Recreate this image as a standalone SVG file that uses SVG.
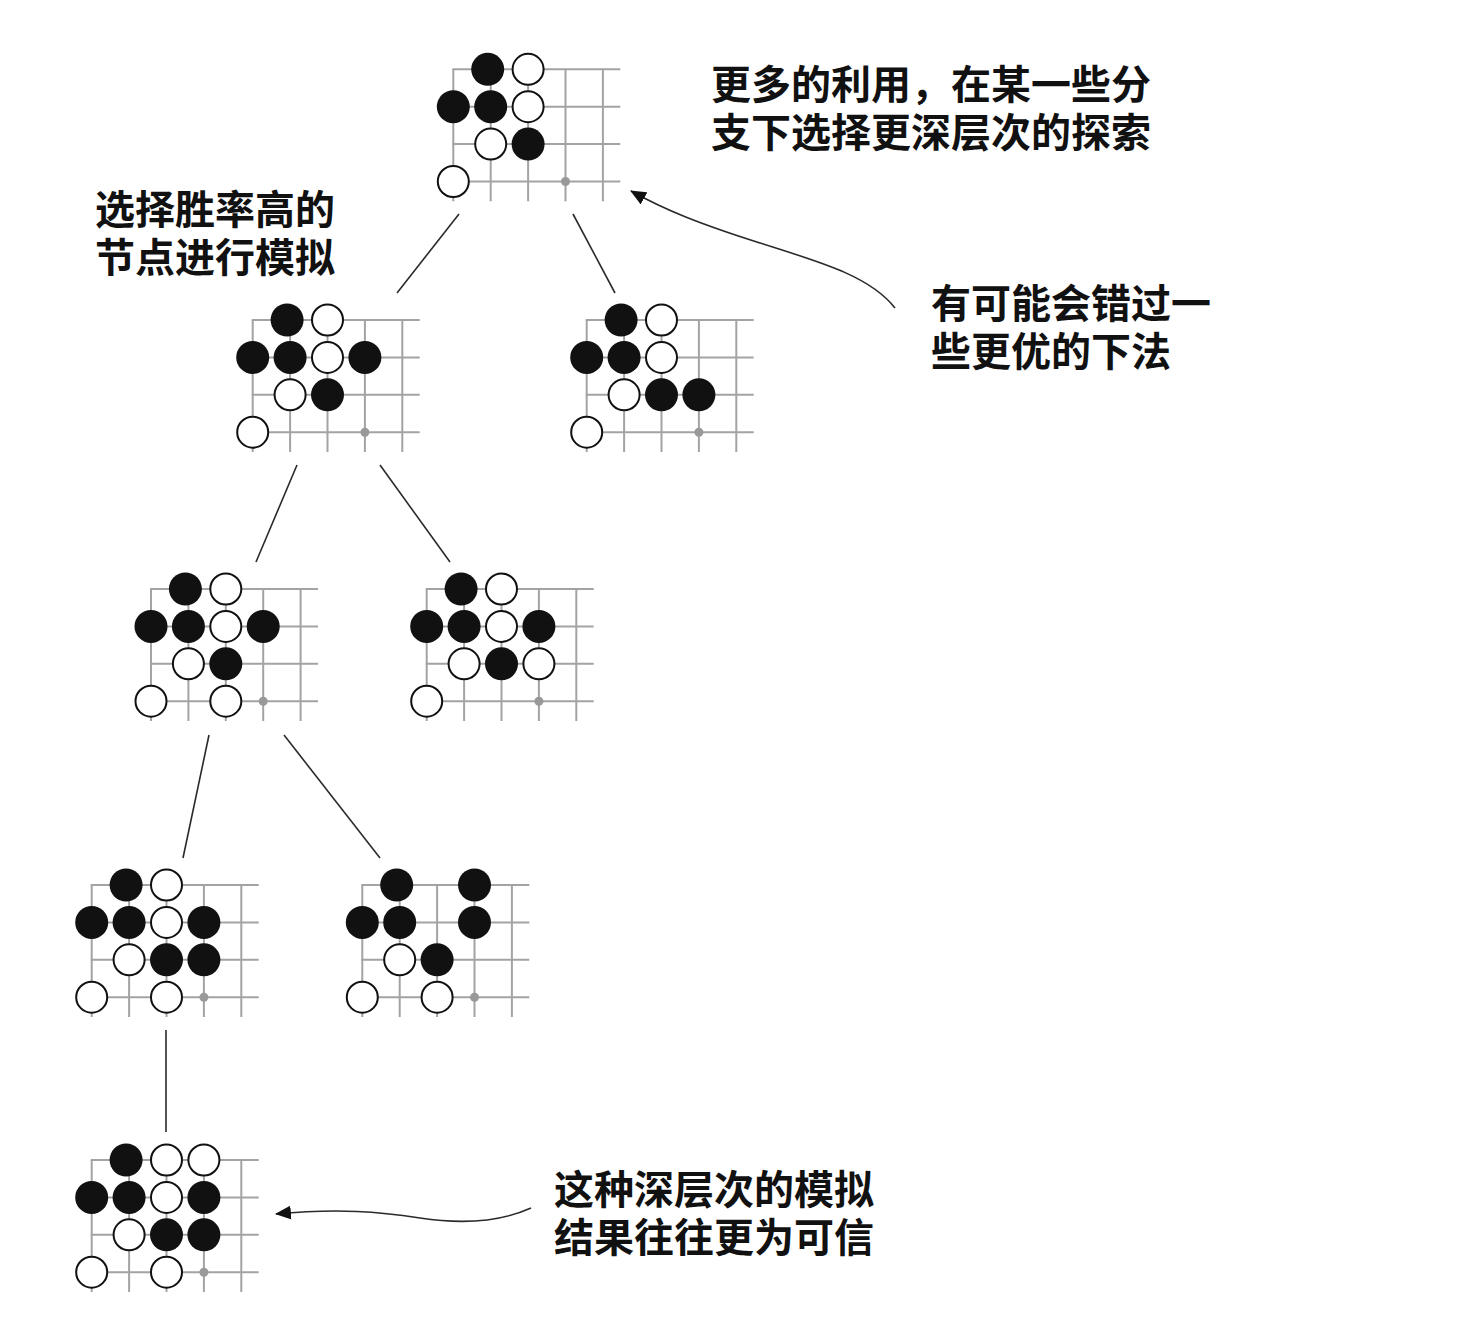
<svg xmlns="http://www.w3.org/2000/svg" xmlns:xlink="http://www.w3.org/1999/xlink" width="1476" height="1338" viewBox="0 0 1476 1338">
<style>
.grid line{stroke:#a3a3a3;stroke-width:2}
.b{fill:#111}
.w{fill:#fff;stroke:#111;stroke-width:2}
.star{fill:#999}
.edge{stroke:#2a2a2a;stroke-width:1.6;fill:none}
.curve{stroke:#2a2a2a;stroke-width:1.6;fill:none;marker-end:url(#arr)}
.lbl{font-family:"Noto Sans CJK SC","Noto Sans",sans-serif;font-weight:700;font-size:40px;fill:#111}
</style>
<defs>
<marker id="arr" viewBox="0 0 16 14" refX="15" refY="7" markerWidth="16" markerHeight="14" markerUnits="userSpaceOnUse" orient="auto">
<path d="M0,0 L16,7 L0,14 z" fill="#111"/>
</marker>
<g id="grid" class="grid">
<line x1="-1" y1="0" x2="167" y2="0"/>
<line x1="-1" y1="37.4" x2="167" y2="37.4"/>
<line x1="-1" y1="74.8" x2="167" y2="74.8"/>
<line x1="-1" y1="112.2" x2="167" y2="112.2"/>
<line x1="0" y1="0" x2="0" y2="132"/>
<line x1="37.4" y1="0" x2="37.4" y2="132"/>
<line x1="74.8" y1="0" x2="74.8" y2="132"/>
<line x1="112.2" y1="0" x2="112.2" y2="132"/>
<line x1="149.6" y1="0" x2="149.6" y2="132"/>
</g>
</defs>
<rect width="1476" height="1338" fill="#fff"/>

<g id="connectors">
<line class="edge" x1="459" y1="214" x2="397" y2="293"/>
<line class="edge" x1="573" y1="214" x2="615" y2="293"/>
<line class="edge" x1="297" y1="465" x2="256" y2="562"/>
<line class="edge" x1="380" y1="465" x2="450" y2="562"/>
<line class="edge" x1="209" y1="735" x2="183" y2="858"/>
<line class="edge" x1="284" y1="735" x2="380" y2="858"/>
<line class="edge" x1="166" y1="1030" x2="166" y2="1132"/>
<path class="curve" d="M895,308 C870,276 820,262 760,243 C700,224 665,210 631,191"/>
<path class="curve" d="M531,1208 C500,1222 460,1224 420,1218 C380,1212 340,1208 276,1214"/>
</g>

<g id="board-root" transform="translate(453.3,69.3)">
<use xlink:href="#grid" href="#grid"/>
<circle class="star" cx="112.2" cy="112.2" r="4.5"/>
<circle class="b" cx="34.4" cy="0" r="16.5"/>
<circle class="w" cx="74.8" cy="0" r="15.5"/>
<circle class="b" cx="0" cy="37.4" r="16.5"/>
<circle class="b" cx="37.4" cy="37.4" r="16.5"/>
<circle class="w" cx="74.8" cy="37.4" r="15.5"/>
<circle class="w" cx="37.4" cy="74.8" r="15.5"/>
<circle class="b" cx="74.8" cy="74.8" r="16.5"/>
<circle class="w" cx="0" cy="112.2" r="15.5"/>
</g>

<g id="board-l1-left" transform="translate(252.7,320)">
<use xlink:href="#grid" href="#grid"/>
<circle class="star" cx="112.2" cy="112.2" r="4.5"/>
<circle class="b" cx="34.4" cy="0" r="16.5"/>
<circle class="w" cx="74.8" cy="0" r="15.5"/>
<circle class="b" cx="0" cy="37.4" r="16.5"/>
<circle class="b" cx="37.4" cy="37.4" r="16.5"/>
<circle class="w" cx="74.8" cy="37.4" r="15.5"/>
<circle class="b" cx="112.2" cy="37.4" r="16.5"/>
<circle class="w" cx="37.4" cy="74.8" r="15.5"/>
<circle class="b" cx="74.8" cy="74.8" r="16.5"/>
<circle class="w" cx="0" cy="112.2" r="15.5"/>
</g>

<g id="board-l1-right" transform="translate(586.7,320)">
<use xlink:href="#grid" href="#grid"/>
<circle class="star" cx="112.2" cy="112.2" r="4.5"/>
<circle class="b" cx="34.4" cy="0" r="16.5"/>
<circle class="w" cx="74.8" cy="0" r="15.5"/>
<circle class="b" cx="0" cy="37.4" r="16.5"/>
<circle class="b" cx="37.4" cy="37.4" r="16.5"/>
<circle class="w" cx="74.8" cy="37.4" r="15.5"/>
<circle class="w" cx="37.4" cy="74.8" r="15.5"/>
<circle class="b" cx="74.8" cy="74.8" r="16.5"/>
<circle class="b" cx="112.2" cy="74.8" r="16.5"/>
<circle class="w" cx="0" cy="112.2" r="15.5"/>
</g>

<g id="board-l2-left" transform="translate(151,589)">
<use xlink:href="#grid" href="#grid"/>
<circle class="star" cx="112.2" cy="112.2" r="4.5"/>
<circle class="b" cx="34.4" cy="0" r="16.5"/>
<circle class="w" cx="74.8" cy="0" r="15.5"/>
<circle class="b" cx="0" cy="37.4" r="16.5"/>
<circle class="b" cx="37.4" cy="37.4" r="16.5"/>
<circle class="w" cx="74.8" cy="37.4" r="15.5"/>
<circle class="b" cx="112.2" cy="37.4" r="16.5"/>
<circle class="w" cx="37.4" cy="74.8" r="15.5"/>
<circle class="b" cx="74.8" cy="74.8" r="16.5"/>
<circle class="w" cx="0" cy="112.2" r="15.5"/>
<circle class="w" cx="74.8" cy="112.2" r="15.5"/>
</g>

<g id="board-l2-right" transform="translate(426.7,589)">
<use xlink:href="#grid" href="#grid"/>
<circle class="star" cx="112.2" cy="112.2" r="4.5"/>
<circle class="b" cx="34.4" cy="0" r="16.5"/>
<circle class="w" cx="74.8" cy="0" r="15.5"/>
<circle class="b" cx="0" cy="37.4" r="16.5"/>
<circle class="b" cx="37.4" cy="37.4" r="16.5"/>
<circle class="w" cx="74.8" cy="37.4" r="15.5"/>
<circle class="b" cx="112.2" cy="37.4" r="16.5"/>
<circle class="w" cx="37.4" cy="74.8" r="15.5"/>
<circle class="b" cx="74.8" cy="74.8" r="16.5"/>
<circle class="w" cx="112.2" cy="74.8" r="15.5"/>
<circle class="w" cx="0" cy="112.2" r="15.5"/>
</g>

<g id="board-l3-left" transform="translate(91.7,885)">
<use xlink:href="#grid" href="#grid"/>
<circle class="star" cx="112.2" cy="112.2" r="4.5"/>
<circle class="b" cx="34.4" cy="0" r="16.5"/>
<circle class="w" cx="74.8" cy="0" r="15.5"/>
<circle class="b" cx="0" cy="37.4" r="16.5"/>
<circle class="b" cx="37.4" cy="37.4" r="16.5"/>
<circle class="w" cx="74.8" cy="37.4" r="15.5"/>
<circle class="b" cx="112.2" cy="37.4" r="16.5"/>
<circle class="w" cx="37.4" cy="74.8" r="15.5"/>
<circle class="b" cx="74.8" cy="74.8" r="16.5"/>
<circle class="b" cx="112.2" cy="74.8" r="16.5"/>
<circle class="w" cx="0" cy="112.2" r="15.5"/>
<circle class="w" cx="74.8" cy="112.2" r="15.5"/>
</g>

<g id="board-l3-right" transform="translate(362.3,885)">
<use xlink:href="#grid" href="#grid"/>
<circle class="star" cx="112.2" cy="112.2" r="4.5"/>
<circle class="b" cx="34.4" cy="0" r="16.5"/>
<circle class="b" cx="112.2" cy="0" r="16.5"/>
<circle class="b" cx="0" cy="37.4" r="16.5"/>
<circle class="b" cx="37.4" cy="37.4" r="16.5"/>
<circle class="b" cx="112.2" cy="37.4" r="16.5"/>
<circle class="w" cx="37.4" cy="74.8" r="15.5"/>
<circle class="b" cx="74.8" cy="74.8" r="16.5"/>
<circle class="w" cx="0" cy="112.2" r="15.5"/>
<circle class="w" cx="74.8" cy="112.2" r="15.5"/>
</g>

<g id="board-l4" transform="translate(91.7,1160)">
<use xlink:href="#grid" href="#grid"/>
<circle class="star" cx="112.2" cy="112.2" r="4.5"/>
<circle class="b" cx="34.4" cy="0" r="16.5"/>
<circle class="w" cx="74.8" cy="0" r="15.5"/>
<circle class="w" cx="112.2" cy="0" r="15.5"/>
<circle class="b" cx="0" cy="37.4" r="16.5"/>
<circle class="b" cx="37.4" cy="37.4" r="16.5"/>
<circle class="w" cx="74.8" cy="37.4" r="15.5"/>
<circle class="b" cx="112.2" cy="37.4" r="16.5"/>
<circle class="w" cx="37.4" cy="74.8" r="15.5"/>
<circle class="b" cx="74.8" cy="74.8" r="16.5"/>
<circle class="b" cx="112.2" cy="74.8" r="16.5"/>
<circle class="w" cx="0" cy="112.2" r="15.5"/>
<circle class="w" cx="74.8" cy="112.2" r="15.5"/>
</g>

<g id="label-exploit">
<text class="lbl" x="711" y="99">更多的利用，在某一些分</text>
<text class="lbl" x="711" y="147">支下选择更深层次的探索</text>
</g>
<g id="label-select">
<text class="lbl" x="95" y="224">选择胜率高的</text>
<text class="lbl" x="95" y="272">节点进行模拟</text>
</g>
<g id="label-miss">
<text class="lbl" x="931" y="318">有可能会错过一</text>
<text class="lbl" x="931" y="366">些更优的下法</text>
</g>
<g id="label-deep">
<text class="lbl" x="554" y="1204">这种深层次的模拟</text>
<text class="lbl" x="554" y="1252">结果往往更为可信</text>
</g>
</svg>
